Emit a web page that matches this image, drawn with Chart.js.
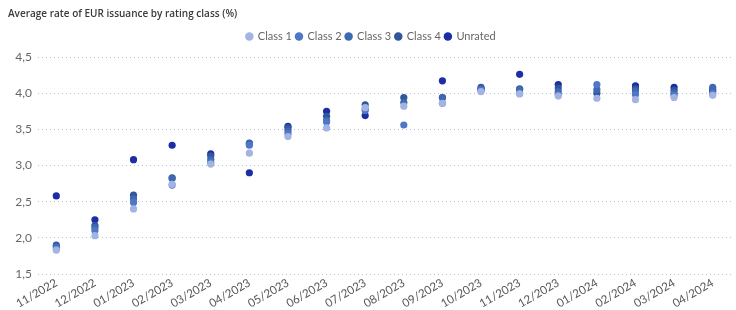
<!DOCTYPE html>
<html>
<head>
<meta charset="utf-8">
<script src="https://cdn.jsdelivr.net/npm/chart.js@4"></script>
<style>
  html, body { margin: 0; padding: 0; background: #fff; }
  #wrap { width: 736px; height: 310px; position: relative; }
</style>
</head>
<body>
<div id="wrap"><canvas id="rateChart"></canvas></div>
<script>
// ---------- DATA ----------
const months = ['11/2022','12/2022','01/2023','02/2023','03/2023','04/2023','05/2023','06/2023','07/2023',
                '08/2023','09/2023','10/2023','11/2023','12/2023','01/2024','02/2024','03/2024','04/2024'];

const class1  = [1.83, 2.03, 2.40, 2.74, 3.02, 3.17, 3.40, 3.52, 3.80, 3.82, 3.86, 4.02, 3.99, 3.96, 3.93, 3.91, 3.94, 3.97];
const class2  = [1.85, 2.10, 2.49, 2.73, 3.04, 3.28, 3.44, 3.60, 3.76, 3.56, 3.86, 4.04, 4.00, 3.98, 4.12, 3.98, 3.97, 4.00];
const class3  = [1.88, 2.14, 2.54, 2.82, 3.08, 3.30, 3.48, 3.62, 3.78, 3.87, 3.94, 4.06, 4.05, 4.02, 4.05, 4.03, 4.00, 4.08];
const class4  = [1.90, 2.17, 2.59, 2.83, 3.13, 3.31, 3.52, 3.68, 3.84, 3.94, 3.94, 4.08, 4.06, 4.07, 4.00, 4.06, 4.04, 4.05];
const unrated = [2.58, 2.25, 3.08, 3.28, 3.16, 2.90, 3.54, 3.75, 3.69, null, 4.17, 4.05, 4.26, 4.12, null, 4.10, 4.08, 4.03];

const seriesNames  = ['Class 1', 'Class 2', 'Class 3', 'Class 4', 'Unrated'];
const seriesData   = [class1, class2, class3, class4, unrated];
const seriesColors = ['#a3b3e2', '#4f77c8', '#3f68b2', '#30579a', '#1c2ea6'];

const yTicks = { min: 1.5, max: 4.5, step: 0.5 };

// ---------- CHART ----------
const FONT = '"Lato", "Open Sans", sans-serif';
const ctx = document.getElementById('rateChart').getContext('2d');

// extra gap under the legend
const legendGap = {
  id: 'legendGap',
  beforeInit (chart) {
    const fit = chart.legend.fit;
    chart.legend.fit = function () { fit.call(this); this.height += 5; };
  }
};

new Chart(ctx, {
  type: 'line',
  data: {
    labels: months,
    datasets: seriesNames.map((name, i) => ({
      label: name,
      data: seriesData[i],
      showLine: false,
      pointRadius: 3.6,
      pointHoverRadius: 4,
      pointBackgroundColor: seriesColors[i],
      pointBorderColor: seriesColors[i],
      backgroundColor: seriesColors[i],
      borderColor: seriesColors[i],
      pointBorderWidth: 0
    }))
  },
  plugins: [legendGap],
  options: {
    responsive: true,
    maintainAspectRatio: false,
    animation: false,
    layout: { padding: { left: 8, right: 2, top: 6, bottom: 0 } },
    plugins: {
      title: {
        display: true,
        text: 'Average rate of EUR issuance by rating class (%)',
        align: 'start',
        color: '#3a3a3a',
        font: { family: '"Open Sans", sans-serif', size: 10, weight: '600' },
        padding: { top: 2, bottom: 7 }
      },
      legend: {
        position: 'top',
        align: 'center',
        labels: {
          usePointStyle: true,
          pointStyle: 'circle',
          boxWidth: 6,
          boxHeight: 6,
          padding: 4,
          color: '#666',
          font: { family: FONT, size: 11 }
        }
      },
      tooltip: { enabled: false }
    },
    scales: {
      x: {
        type: 'category',
        offset: true,
        grid: { display: false, drawTicks: false },
        border: { display: false },
        ticks: {
          color: '#555',
          font: { family: FONT, size: 11.5 },
          minRotation: 30,
          maxRotation: 30,
          padding: 2,
          autoSkip: false
        },
        afterFit: s => { s.height = 36; }
      },
      y: {
        min: yTicks.min,
        max: yTicks.max,
        grid: { color: '#b4bfd8', lineWidth: 1, drawTicks: false },
        border: { display: true, color: 'rgba(0,0,0,0)', dash: [1, 3] },
        ticks: {
          stepSize: yTicks.step,
          color: '#666',
          padding: 5,
          font: { family: FONT, size: 12 },
          callback: v => v.toFixed(1).replace('.', ',')
        },
        afterFit: s => { s.width = 29; }
      }
    }
  }
});
</script>
</body>
</html>
